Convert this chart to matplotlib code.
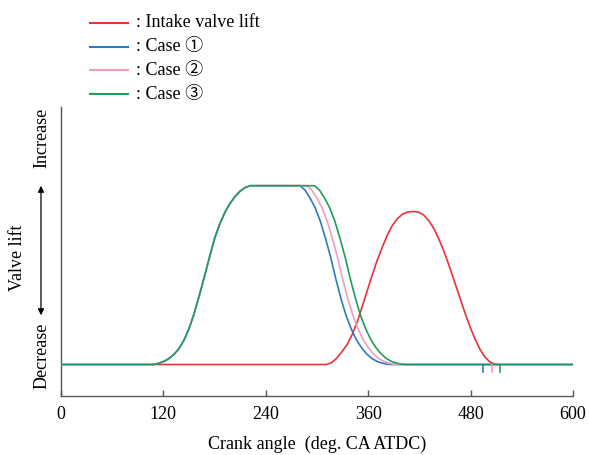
import matplotlib
matplotlib.use("Agg")
import matplotlib.pyplot as plt

plt.rcParams['font.family'] = ['Liberation Serif', 'Noto Sans CJK JP', 'DejaVu Sans']

# crank angle (deg) / lift (plateau = 1)
rise_ca = [0, 100, 108, 114, 120, 126, 132, 138, 144, 150, 156, 162, 168, 174,
           180, 186, 192, 198, 204, 210, 216, 222]
rise_lift = [0, 0, 0, 0.006, 0.016, 0.032, 0.055, 0.087, 0.135, 0.2, 0.285,
             0.385, 0.49, 0.6, 0.705, 0.785, 0.85, 0.9, 0.94, 0.97, 0.99, 1.0]

fall_lift = [1.0, 0.975, 0.93, 0.875, 0.8, 0.705, 0.6, 0.48, 0.37, 0.275, 0.2,
             0.14, 0.095, 0.06, 0.035, 0.018, 0.008, 0.002, 0, 0]
case1_ca = [280, 286, 292, 298, 304, 310, 316, 322, 328, 334, 340, 346, 352,
            358, 364, 370, 376, 382, 388, 600]
case2_ca = [288, 294, 300, 306, 312, 318, 324, 330, 336, 342, 348, 354, 360,
            366, 372, 378, 384, 390, 396, 600]
case3_ca = [297, 303, 309, 315, 321, 327, 333, 339, 345, 351, 357, 363, 369,
            375, 381, 387, 393, 399, 405, 600]

intake_ca = [108, 311, 317, 323, 329, 335, 341, 347, 352, 358, 364, 370, 376,
             382, 388, 394, 400, 406, 413, 419, 425, 431, 437, 443, 449, 455,
             461, 467, 473, 479, 485, 491, 497, 503, 509, 512]
intake_lift = [0, 0, 0.01, 0.035, 0.07, 0.11, 0.165, 0.235, 0.31, 0.40, 0.49,
               0.575, 0.65, 0.72, 0.775, 0.815, 0.84, 0.852, 0.856, 0.852,
               0.836, 0.805, 0.76, 0.70, 0.63, 0.55, 0.465, 0.38, 0.295,
               0.215, 0.145, 0.085, 0.04, 0.013, 0.002, 0]

close_marks = [495, 505, 515]
mark_depth = -0.04

xticks = [0, 120, 240, 360, 480, 600]

c_red = '#e8323c'
c_blue = '#2b7bc4'
c_pink = '#f39cc0'
c_green = '#1e9e5a'

fig = plt.figure(figsize=(5.89, 4.55), dpi=100)
ax = fig.add_axes([61/589, 59/455, 512/589, 289/455])

ax.plot(intake_ca, intake_lift, color=c_red, lw=1.2, zorder=3)
ax.plot(rise_ca + case1_ca, rise_lift + fall_lift, color=c_blue, lw=1.2, zorder=4)
ax.plot(rise_ca + case2_ca, rise_lift + fall_lift, color=c_pink, lw=1.2, zorder=5)
ax.plot(rise_ca + case3_ca, rise_lift + fall_lift, color=c_green, lw=1.2, zorder=6)
for x, c in zip(close_marks, [c_blue, c_pink, c_green]):
    ax.plot([x, x], [0, mark_depth], color=c, lw=1.2, zorder=7)

ax.set_xlim(0, 600)
ax.set_ylim(-0.176, 1.44)
ax.set_xticks(xticks)
ax.set_yticks([])
for s in ['top', 'right']:
    ax.spines[s].set_visible(False)
for s in ['left', 'bottom']:
    ax.spines[s].set_color('#555555')
    ax.spines[s].set_linewidth(1.0)
ax.tick_params(axis='x', direction='in', length=4, width=1.0, color='#555555',
               pad=7, labelsize=13)
ax.set_xlabel('Crank angle  (deg. CA ATDC)', fontsize=13, labelpad=9)

# y-axis annotation
fig.text(18/589, 1 - 258/455, 'Valve lift', rotation=90, ha='center', va='center', fontsize=13)
fig.text(42/589, 1 - 138/455, 'Increase', rotation=90, ha='center', va='center', fontsize=13)
fig.text(42/589, 1 - 356/455, 'Decrease', rotation=90, ha='center', va='center', fontsize=13)
fig.add_artist(matplotlib.patches.FancyArrowPatch(
    (41/589, 1 - 183/455), (41/589, 1 - 318/455), transform=fig.transFigure,
    arrowstyle='<|-|>', mutation_scale=9, color='black', lw=0.9))

# legend
labels = [': Intake valve lift', ': Case \u2460', ': Case \u2461', ': Case \u2462']
colors = [c_red, c_blue, c_pink, c_green]
rows = [22.7, 46.7, 70, 94.3]
for lab, c, yy in zip(labels, colors, rows):
    fig.add_artist(matplotlib.lines.Line2D([90/589, 128/589], [1 - yy/455, 1 - yy/455],
                                           transform=fig.transFigure, color=c, lw=1.5))
    fig.text(136/589, 1 - yy/455, lab, ha='left', va='center', fontsize=13)

fig.savefig('out.png', dpi=100)
